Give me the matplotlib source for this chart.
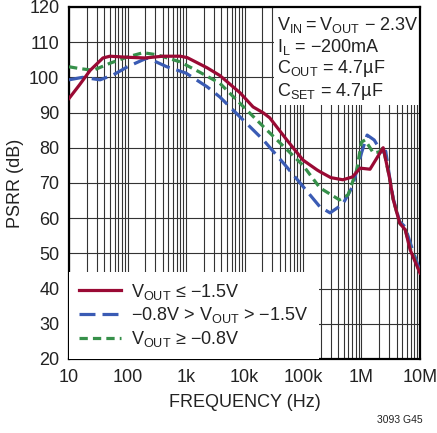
import numpy as np
import matplotlib.pyplot as plt
from matplotlib.patches import Rectangle

# fonte estreita parecida com a do datasheet
plt.rcParams['font.family'] = ['Liberation Sans Narrow', 'Liberation Sans', 'DejaVu Sans']
plt.rcParams['mathtext.fontset'] = 'custom'
plt.rcParams['mathtext.rm'] = 'Liberation Sans Narrow'
plt.rcParams['mathtext.it'] = 'Liberation Sans Narrow'

# curvas (Hz, dB)
freq_a = [10, 15, 23, 38, 50, 100, 200, 400, 800, 1050, 2300, 3800, 8400, 14e3, 21e3,
          27e3, 53e3, 100e3, 174e3, 195e3, 300e3, 480e3, 700e3, 950e3, 1.4e6, 2.35e6,
          3e6, 3.5e6, 4.5e6, 5.6e6, 6.8e6, 10e6]
psrr_a = [94, 97.8, 102, 105.5, 106, 105.7, 105.5, 106, 106, 105.6, 102.7, 100.5, 95.6, 91.6, 89.9,
          88.5, 82.2, 76.5, 73.7, 73.2, 71.5, 70.9, 71.7, 74.2, 73.9, 80,
          71.7, 65.2, 58.6, 56.7, 51, 44.4]

freq_b = [10, 17, 34, 57, 100, 185, 220, 470, 1000, 2300, 3800, 21e3, 50e3, 100e3, 195e3,
          290e3, 480e3, 700e3, 1e6, 1.25e6, 1.65e6, 2.2e6, 2.6e6, 3e6, 3.5e6, 4.5e6,
          5.6e6, 6.8e6, 10e6]
psrr_b = [99.3, 100, 99.3, 100.7, 103, 105, 105.5, 103, 101.2, 97.3, 94.4, 82.2, 75, 69, 63.2,
          61.5, 64, 68.9, 78.5, 83.6, 82.2, 78.8, 79, 72, 65.5, 59, 57.5, 53, 45]

freq_c = [10, 15, 26, 50, 100, 185, 320, 790, 1700, 3800, 21e3, 100e3, 195e3, 420e3,
          590e3, 830e3, 1e6, 1.15e6, 1.6e6, 2e6, 2.35e6, 3e6, 3.5e6, 4.5e6, 5.6e6,
          6.8e6, 10e6]
psrr_c = [103, 102.5, 102, 104, 105.8, 107, 106.4, 104.4, 101.5, 98.3, 86, 75, 68.6, 65.2,
          66.6, 73.7, 81.6, 82.2, 78.5, 78.8, 80, 71.7, 65.2, 58.6, 56.7, 51.5, 44.6]

rotulos = [r'$\mathregular{V_{OUT}}$ ≤ −1.5V',
           r'−0.8V > $\mathregular{V_{OUT}}$ > −1.5V',
           r'$\mathregular{V_{OUT}}$ ≥ −0.8V']
cores = ['#9a0a34', '#3a5bb4', '#36904a']

xticks = [10, 100, 1e3, 1e4, 1e5, 1e6, 1e7]
xticklabels = ['10', '100', '1k', '10k', '100k', '1M', '10M']
yticks = list(range(20, 121, 10))

fig = plt.figure(figsize=(4.37, 4.33), dpi=100)
ax = fig.add_axes([0.158, 0.171, 0.803, 0.813])

ax.semilogx(freq_a, psrr_a, color=cores[0], lw=2.3, label=rotulos[0], zorder=5)
ax.semilogx(freq_b, psrr_b, color=cores[1], lw=2.3, dashes=(5, 2.2), label=rotulos[1], zorder=3)
ax.semilogx(freq_c, psrr_c, color=cores[2], lw=2.3, dashes=(2.6, 1.6), label=rotulos[2], zorder=4)

ax.set_xlim(10, 1e7)
ax.set_ylim(20, 120)
ax.set_xticks(xticks)
ax.set_xticklabels(xticklabels)
ax.set_yticks(yticks)
ax.set_xticks([m * d for d in [10, 100, 1e3, 1e4, 1e5, 1e6] for m in range(2, 10)], minor=True)
ax.xaxis.set_minor_formatter(plt.NullFormatter())
ax.grid(True, which='both', axis='x', color='#333333', lw=0.8)
ax.grid(True, which='major', axis='y', color='#333333', lw=0.8)
ax.set_axisbelow(True)
ax.tick_params(which='both', length=0, labelsize=13, colors='#222222', pad=7)
for s in ax.spines.values():
    s.set_linewidth(1.6)

ax.set_xlabel('FREQUENCY (Hz)', fontsize=13, color='#222222', labelpad=6)
ax.set_ylabel('PSRR (dB)', fontsize=13, color='#222222', labelpad=4)

# caixa com as condicoes de teste
ax.add_patch(Rectangle((0.583, 0.72), 0.417, 0.28, transform=ax.transAxes,
                       facecolor='white', edgecolor='none', zorder=2))
condicoes = [r'$\mathregular{V_{IN} = V_{OUT}}$ − 2.3V',
             r'$\mathregular{I_L}$ = −200mA',
             r'$\mathregular{C_{OUT}}$ = 4.7µF',
             r'$\mathregular{C_{SET}}$ = 4.7µF']
for i, t in enumerate(condicoes):
    ax.text(0.593, 0.95 - i * 0.063, t, transform=ax.transAxes, fontsize=13,
            color='#222222', va='center', ha='left', zorder=6)

leg = ax.legend(loc='lower left', fontsize=13, frameon=True, fancybox=False,
                borderaxespad=0, handlelength=2.3, labelspacing=0.2,
                borderpad=0.55, handletextpad=0.6)
leg.get_frame().set_edgecolor('none')
leg.get_frame().set_alpha(1)
for t in leg.get_texts():
    t.set_color('#222222')

fig.text(0.915, 0.03, '3093 G45', fontsize=7.5, ha='center', va='center', color='#222222')

fig.savefig('out.png', dpi=100)
